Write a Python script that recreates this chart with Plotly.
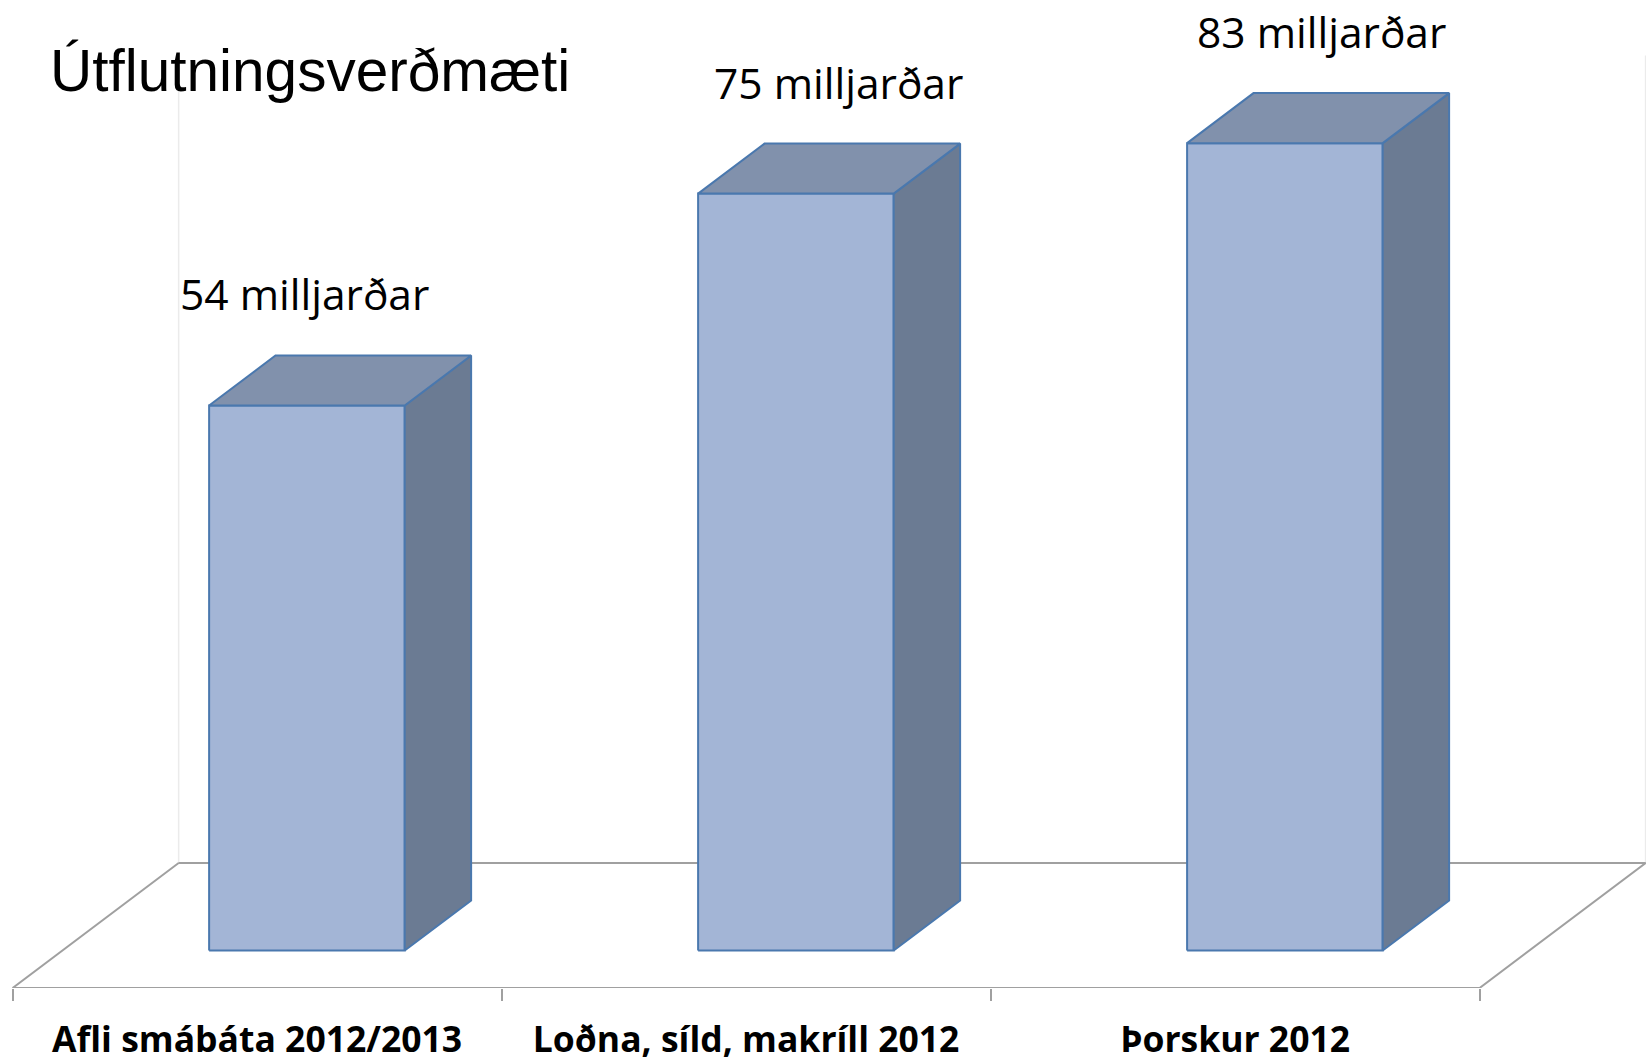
import plotly.graph_objects as go

# ---- data ----
categories = ["Afli smábáta 2012/2013", "Loðna, síld, makríll 2012", "Þorskur 2012"]
values = [54, 75, 80]                      # bar heights
value_labels = ["54 milljarðar", "75 milljarðar", "83 milljarðar"]
title_text = "Útflutningsverðmæti"

# ---- 3D (oblique) geometry, in axis units ----
BAR_W = 0.40          # bar width as a fraction of a category slot
DX, DY = 0.3395, 12.39  # full floor depth offset (x units, value units)
D_FRONT, D_BACK = 0.30, 0.70  # bar depth position within floor depth
WALL_H = 80           # back-wall height (value axis max)
X_RANGE = [-0.5258, 2.8403]
Y_RANGE = [0, 97.9]

FRONT_COL = "#A3B5D6"
TOP_COL = "#8191AC"
SIDE_COL = "#6B7B93"
EDGE_COL = "#4A78AE"
FLOOR_COL = "#A0A0A0"
WALL_COL = "#EBEBEB"

fig = go.Figure()

n = len(categories)
lo, hi = -0.5, n - 0.5

# back wall edges
fig.add_trace(go.Scatter(
    x=[lo + DX, lo + DX, None, hi + DX, hi + DX],
    y=[DY, DY + WALL_H, None, DY, DY + WALL_H],
    mode="lines", line=dict(color=WALL_COL, width=1.5),
    hoverinfo="skip", showlegend=False))

# floor outline
fig.add_trace(go.Scatter(
    x=[lo + DX, hi + DX, hi, lo, lo + DX],
    y=[DY, DY, 0, 0, DY],
    mode="lines", line=dict(color=FLOOR_COL, width=2),
    hoverinfo="skip", showlegend=False))

ddx = (D_BACK - D_FRONT) * DX
ddy = (D_BACK - D_FRONT) * DY
base = D_FRONT * DY

for i, v in enumerate(values):
    x0 = i - BAR_W / 2 + D_FRONT * DX
    x1 = x0 + BAR_W
    top = base + v
    # front face
    fig.add_trace(go.Scatter(
        x=[x0, x1, x1, x0, x0], y=[base, base, top, top, base],
        mode="lines", fill="toself", fillcolor=FRONT_COL,
        line=dict(color=EDGE_COL, width=2),
        hoverinfo="skip", showlegend=False))
    # side face
    fig.add_trace(go.Scatter(
        x=[x1, x1 + ddx, x1 + ddx, x1, x1],
        y=[base, base + ddy, top + ddy, top, base],
        mode="lines", fill="toself", fillcolor=SIDE_COL,
        line=dict(color=EDGE_COL, width=2),
        hoverinfo="skip", showlegend=False))
    # top face
    fig.add_trace(go.Scatter(
        x=[x0, x1, x1 + ddx, x0 + ddx, x0],
        y=[top, top, top + ddy, top + ddy, top],
        mode="lines", fill="toself", fillcolor=TOP_COL,
        line=dict(color=EDGE_COL, width=2),
        hoverinfo="skip", showlegend=False))

# value labels (manually placed text boxes in the original)
label_shift = [-0.005, 0.087, 0.075]
for i, (v, t) in enumerate(zip(values, value_labels)):
    fig.add_annotation(
        x=i + D_FRONT * DX + label_shift[i],
        y=base + v + ddy + 6.1,
        xref="x", yref="y", text=t, showarrow=False,
        xanchor="center", yanchor="middle",
        font=dict(family="Open Sans", size=42.5, color="black"))

# title
fig.add_annotation(
    x=48 / 1646, y=1 - 71 / 988, xref="paper", yref="paper",
    text=title_text, showarrow=False, xanchor="left", yanchor="middle",
    font=dict(family="Liberation Sans, Arial", size=58.5, color="black"))

fig.update_layout(
    width=1646, height=1064,
    margin=dict(l=0, r=0, t=0, b=76, autoexpand=False),
    paper_bgcolor="white", plot_bgcolor="white",
    showlegend=False,
    xaxis=dict(
        range=X_RANGE, showgrid=False, zeroline=False, showline=False,
        tickvals=list(range(n)), ticktext=categories, ticks="",
        tickfont=dict(family="Open Sans", size=35.5, color="black", weight="bold"),
        ticklabelstandoff=27,
        minor=dict(tickvals=[k - 0.5 for k in range(n + 1)], ticks="outside",
                   ticklen=12, tickwidth=2, tickcolor=FLOOR_COL, showgrid=False),
        fixedrange=True),
    yaxis=dict(range=Y_RANGE, showgrid=False, zeroline=False, showline=False,
               showticklabels=False, ticks="", fixedrange=True),
)

fig.write_html(
    "out.html",
    config={"displayModeBar": False},
    post_script="document.body.style.margin='0';document.body.style.overflow='hidden';",
)
